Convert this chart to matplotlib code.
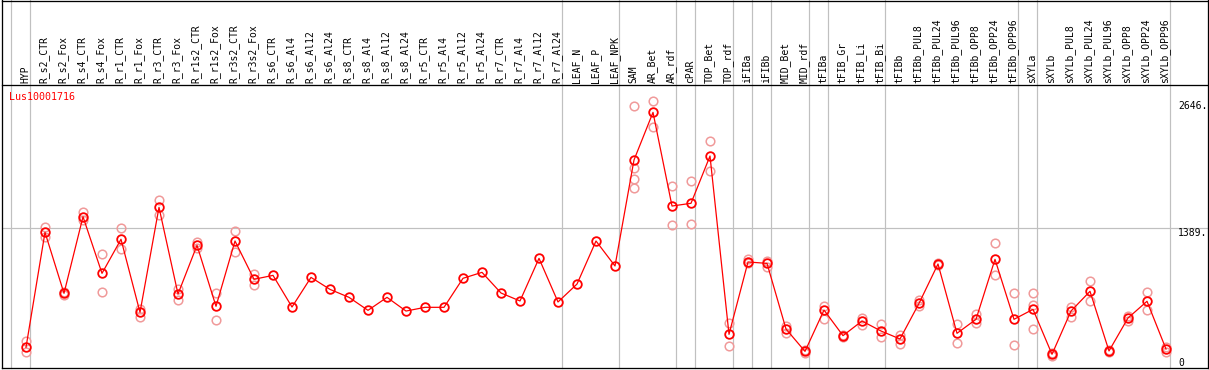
import matplotlib
matplotlib.use("Agg")
import matplotlib.pyplot as plt
from matplotlib.transforms import blended_transform_factory
from matplotlib.lines import Line2D

# ---------------- data ----------------
samples = ["HYP", "R_s2_CTR", "R_s2_Fox", "R_s4_CTR", "R_s4_Fox", "R_r1_CTR", "R_r1_Fox",
           "R_r3_CTR", "R_r3_Fox", "R_r1s2_CTR", "R_r1s2_Fox", "R_r3s2_CTR", "R_r3s2_Fox",
           "R_s6_CTR", "R_s6_Al4", "R_s6_Al12", "R_s6_Al24", "R_s8_CTR", "R_s8_Al4",
           "R_s8_Al12", "R_s8_Al24", "R_r5_CTR", "R_r5_Al4", "R_r5_Al12", "R_r5_Al24",
           "R_r7_CTR", "R_r7_Al4", "R_r7_Al12", "R_r7_Al24", "LEAF_N", "LEAF_P", "LEAF_NPK",
           "SAM", "AR_Bet", "AR_rdf", "cPAR", "TOP_Bet", "TOP_rdf", "iFIBa", "iFIBb",
           "MID_Bet", "MID_rdf", "tFIBa", "tFIB_Gr", "tFIB_Li", "tFIB_Bi", "tFIBb",
           "tFIBb_PUL8", "tFIBb_PUL24", "tFIBb_PUL96", "tFIBb_OPP8", "tFIBb_OPP24",
           "tFIBb_OPP96", "sXYLa", "sXYLb", "sXYLb_PUL8", "sXYLb_PUL24", "sXYLb_PUL96",
           "sXYLb_OPP8", "sXYLb_OPP24", "sXYLb_OPP96"]

means = [205, 1346, 741, 1501, 939, 1277, 552, 1594, 734, 1217, 612, 1260, 880,
         919, 605, 899, 780, 701, 572, 701, 565, 602, 602, 890, 949, 744, 665, 1088, 655,
         833, 1260, 1012, 2064, 2536, 1607, 1634, 2103, 334, 1052, 1038, 387, 165,
         575, 321, 466, 367, 288, 641, 1032, 344, 483, 1078, 483, 582, 136, 565, 761,
         169, 496, 662, 188]

replicates = [
    [268, 162], [1402, 1303], [755, 728], [1548, 1468], [1128, 751], [1386, 1177],
    [589, 503], [1663, 1518], [787, 675], [1253, 1187], [741, 473], [1359, 1154],
    [933, 827],
    [], [], [], [], [], [], [], [], [], [], [], [], [], [], [], [], [], [], [],
    [2599, 1981, 1875, 1783], [2646, 2394], [1803, 1419], [1855, 1425], [2252, 1954],
    [443, 215], [1078, 1038], [1065, 1005], [417, 350], [180, 150], [618, 489],
    [330, 312], [499, 427], [433, 308], [331, 241], [675, 615], [1045, 1020],
    [433, 245], [539, 443], [1237, 919], [741, 225], [741, 625, 384], [150, 122],
    [608, 503], [860, 662], [180, 158], [516, 469], [754, 578], [208, 162],
]

# first sample index of every group (group separators)
group_starts = [0, 1, 29, 32, 35, 36, 38, 39, 40, 42, 43, 46, 53, 54, 61]

ytick_values = [2646, 1389, 0]
ytick_labels = ["2646.", "1389.", "0"]
title = "Lus10001716"

# ---------------- figure ----------------
W, H = 1209, 370
fig = plt.figure(figsize=(W / 100, H / 100), dpi=100)
fig.patch.set_facecolor("white")

# plot region: x 2..1171 px, y 85..368 px
ax = fig.add_axes([2 / W, (H - 368) / H, 1169 / W, 283 / H])
ax.set_xlim(-24 / 19, 1145 / 19)
ax.set_ylim(0, 283 * 1389 / 140)
ax.axis("off")

mono = "DejaVu Sans Mono"
grid_c = "#c0c0c0"
px = 0.72  # one pixel in points

bt_xdata = blended_transform_factory(ax.transData, ax.transAxes)
bt_ydata = blended_transform_factory(ax.transAxes, ax.transData)
top_axes = 1 + 85 / 283

# group separators (through header too)
for g in group_starts:
    xb = g - 15 / 19
    ax.plot([xb, xb], [0, top_axes], transform=bt_xdata, color=grid_c,
            lw=px * 1.2, clip_on=False, zorder=1)

# horizontal grid line at 1389
ax.plot([0, 1206 / 1169], [1389, 1389], transform=bt_ydata, color=grid_c,
        lw=px * 1.2, clip_on=False, zorder=1)

# replicates
for i, reps in enumerate(replicates):
    if reps:
        ax.plot([i] * len(reps), reps, linestyle="none", marker="o", ms=6.2,
                mfc="none", mec="#f09a9a", mew=1.1, zorder=2, clip_on=False)

# mean line
xs = list(range(len(means)))
ax.plot(xs, means, color="red", lw=0.9, marker="o", ms=6.2, mfc="none",
        mec="red", mew=1.3, zorder=3, clip_on=False)

# header labels
for i, s in enumerate(samples):
    ax.text(i - 0.05, 1 + 2 / 283, s, rotation=90, ha="center", va="bottom",
            transform=bt_xdata, fontsize=7, family=mono, color="black")

# y labels on the right
for v, lab in zip(ytick_values, ytick_labels):
    ax.text(1176 / 1169, v, lab, transform=bt_ydata, ha="left",
            va="bottom" if v == 0 else "top", fontsize=7, family=mono,
            color="black", clip_on=False)

# title
fig.text(9 / W, 1 - 97 / H, title, color="red", fontsize=7.2, family=mono,
         ha="left", va="center")

# black frame and header separator (figure pixel coords)
def fline(x0, y0, x1, y1):
    fig.add_artist(Line2D([x0 / W, x1 / W], [1 - y0 / H, 1 - y1 / H],
                          transform=fig.transFigure, color="black", lw=px * 1.3))

fline(2, 0.6, 1208, 0.6)
fline(2, 368, 1208, 368)
fline(2, 0, 2, 368)
fline(1208, 0, 1208, 368)
fline(2, 85, 1208, 85)

fig.savefig("out.png", dpi=100)
